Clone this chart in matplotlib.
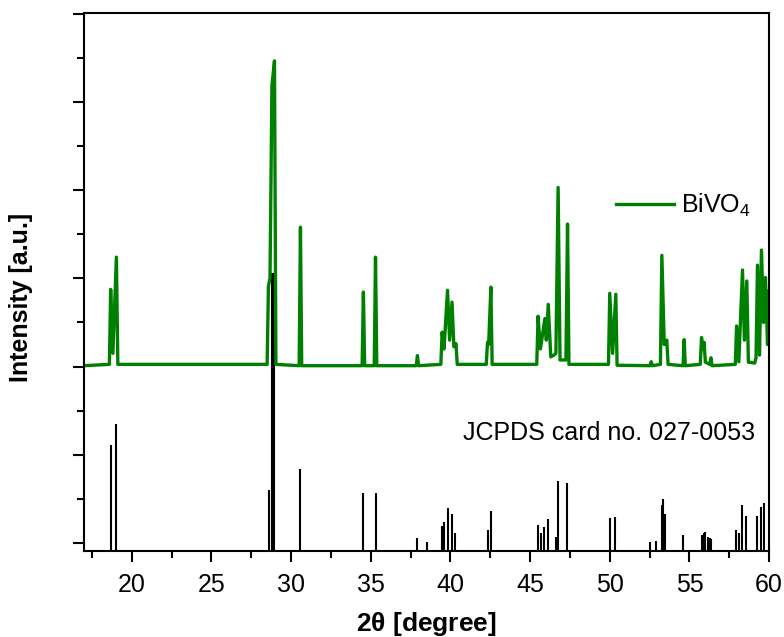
import matplotlib
matplotlib.use('Agg')
import matplotlib.pyplot as plt
from matplotlib.ticker import MultipleLocator

plt.rcParams['font.family'] = ['Liberation Sans', 'DejaVu Sans']
plt.rcParams['mathtext.default'] = 'regular'

bivo4_2theta = [17.0, 18.6, 18.68, 18.82, 19.04, 19.13,
                28.5, 28.58, 28.68, 28.80, 28.96, 29.05,
                30.51, 30.59, 30.67,
                34.46, 34.54, 34.62, 35.22, 35.3, 35.38,
                37.86, 37.93, 38.0,
                39.4, 39.48, 39.6, 39.82, 39.95, 40.1, 40.22, 40.35, 40.43,
                42.25, 42.33, 42.4, 42.54, 42.62,
                45.42, 45.5, 45.65, 45.93, 46.02, 46.14, 46.3, 46.5, 46.62,
                46.76, 46.88, 47.25, 47.35, 47.44,
                49.92, 50.0, 50.18, 50.38, 50.46,
                52.52, 52.6, 52.68,
                53.18, 53.27, 53.42, 53.58, 53.66,
                54.6, 54.67, 54.74,
                55.68, 55.76, 55.84, 55.92, 56.0, 56.28, 56.35, 56.42,
                57.88, 57.96, 58.1, 58.33, 58.45, 58.6, 58.7, 59.1,
                59.18, 59.27, 59.4, 59.52, 59.65, 59.77, 59.9, 60.0]
bivo4_intensity = [4.02, 4.05, 5.75, 4.3, 6.48, 4.05,
                   4.05, 5.82, 6.0, 10.36, 10.93, 4.05,
                   4.02, 7.16, 4.02,
                   4.02, 5.69, 4.02, 4.02, 6.48, 4.02,
                   4.02, 4.25, 4.02,
                   4.05, 4.78, 4.4, 5.73, 4.6, 5.46, 4.45, 4.52, 4.05,
                   4.05, 4.55, 4.5, 5.8, 4.05,
                   4.05, 5.14, 4.4, 5.09, 4.6, 5.41, 4.22, 4.26, 4.3,
                   8.06, 4.15, 4.15, 7.23, 4.05,
                   4.05, 5.66, 4.3, 5.64, 4.03,
                   4.02, 4.11, 4.02,
                   4.05, 6.52, 4.5, 4.6, 4.05,
                   4.02, 4.61, 4.02,
                   4.05, 4.66, 4.4, 4.55, 4.1, 4.05, 4.2, 4.02,
                   4.05, 4.92, 4.11, 6.19, 4.6, 5.94, 4.1, 4.08,
                   4.2, 6.3, 4.26, 6.64, 5.0, 6.02, 4.5, 5.71]

# JCPDS 027-0053 reference lines
jcpds_2theta = [18.68, 19.04, 28.6, 28.83, 28.95, 30.59, 34.54, 35.3, 37.93, 38.56,
                39.48, 39.6, 39.84, 40.09, 40.3, 42.37, 42.56,
                45.48, 45.67, 45.9, 46.11, 46.6, 46.77, 47.33, 49.99, 50.34,
                52.52, 52.9, 53.25, 53.35, 53.47, 54.6,
                55.76, 55.89, 55.99, 56.14, 56.26, 56.38,
                57.92, 58.08, 58.33, 58.58, 59.27, 59.5, 59.7]
jcpds_intensity = [2.22, 2.69, 1.2, 6.12, 6.12, 1.69, 1.14, 1.14, 0.11, 0.02,
                   0.39, 0.48, 0.79, 0.67, 0.23, 0.29, 0.73,
                   0.41, 0.22, 0.36, 0.54, 0.14, 1.41, 1.37, 0.56, 0.6,
                   0.03, 0.05, 0.86, 1.01, 0.67, 0.18,
                   0.18, 0.22, 0.24, 0.13, 0.11, 0.09,
                   0.29, 0.22, 0.86, 0.62, 0.62, 0.81, 0.9]

fig = plt.figure(figsize=(7.84, 6.37), dpi=100)
ax = fig.add_axes([0.107, 0.135, 0.874, 0.845])

ymin, ymax = -0.18, 12.02
ax.vlines(jcpds_2theta, ymin, jcpds_intensity, color='black', lw=1.5)
ax.plot(bivo4_2theta, bivo4_intensity, color='#008000', lw=2.4, label='BiVO$_4$')

ax.set_xlim(17, 60)
ax.set_ylim(ymin, ymax)
ax.xaxis.set_major_locator(MultipleLocator(5))
ax.xaxis.set_minor_locator(MultipleLocator(2.5))
ax.yaxis.set_major_locator(MultipleLocator(2))
ax.yaxis.set_minor_locator(MultipleLocator(1))
ax.set_yticklabels([])
ax.tick_params(which='major', length=8, width=1.5, labelsize=18, pad=8)
ax.tick_params(which='minor', length=5, width=1.5)
for s in ax.spines.values():
    s.set_linewidth(1.5)

ax.set_xlabel(r'2$\theta$ [degree]', fontsize=19, fontweight='bold', labelpad=9)
ax.set_ylabel('Intensity [a.u.]', fontsize=18, fontweight='bold')
ax.yaxis.set_label_coords(-0.074, 0.472)

ax.text(40.8, 2.5, 'JCPDS card no. 027-0053', fontsize=18, va='center')
ax.legend(loc='center left', bbox_to_anchor=(0.777, 0.643), frameon=False,
          fontsize=18, handlelength=2.3, handletextpad=0.3, borderpad=0,
          borderaxespad=0)

fig.savefig('out.png', dpi=100)
plt.close(fig)
